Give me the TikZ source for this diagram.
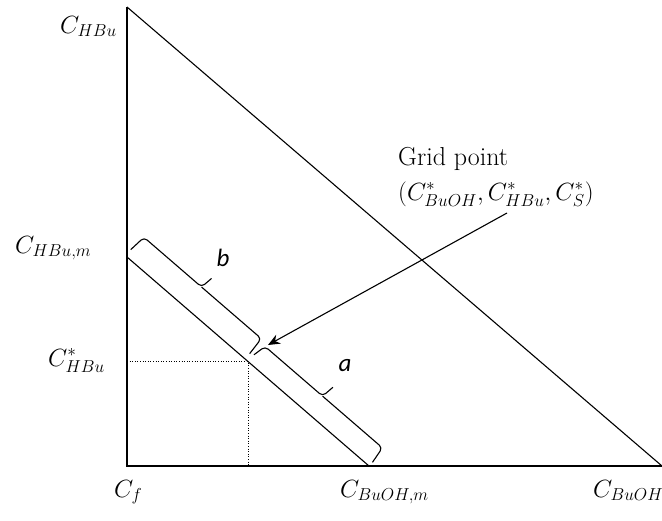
\documentclass[tikz,border=0pt]{standalone}
\usepackage{fontspec}
\newfontfamily\calfont{Carlito}
\usetikzlibrary{arrows.meta,calc}
\begin{document}
\begin{tikzpicture}[x=1pt,y=-1pt,
  axisline/.style={line width=1.6pt},
  mainline/.style={line width=1.1pt},
  dotline/.style={line width=0.9pt, dash pattern=on 1pt off 1.6pt},
  lab/.style={inner sep=0pt, font=\fontsize{26}{31}\selectfont, anchor=base west},
  letter/.style={inner sep=0pt, font=\calfont\itshape\fontsize{25}{30}\selectfont},
  bracestyle/.style={line width=1.1pt, rounded corners=4pt, line join=round},
]
\useasboundingbox (0,0) rectangle (662,520);
\coordinate (O) at (127,466);
\coordinate (Top) at (127,7);
\coordinate (Right) at (662,466);
\coordinate (Hm) at (127,257);
\coordinate (Bm) at (369,466);
\coordinate (G) at ($(Hm)!0.5!(Bm)$);
\coordinate (arrS) at (507,213);
\coordinate (arrT) at (268,345);
% axes and lines
\draw[axisline] (Top) -- (O) -- (Right);
\draw[mainline] (Top) -- (Right);
\draw[mainline] (Hm) -- (Bm);
\draw[dotline] (O |- G) -- (G) -- (G |- O);
% braces
\begin{scope}[shift={(Hm)}, x=1pt, y=1pt, rotate=-40.81]
  \draw[bracestyle] (-2,8) -- (0,26) -- (76,26) -- (78,39);
  \draw[bracestyle] (76,26) -- (155,26) -- (156,7);
  \draw[bracestyle] (160,9) -- (163,22.5) -- (239,22.5) -- (241,36);
  \draw[bracestyle] (239,22.5) -- (318,22.5) -- (320,5);
\end{scope}
\node[letter] (lb) at (223,258) {b};
\node[letter] (la) at (345,366) {a};
% arrow
\draw[mainline, -{Stealth[length=12pt,width=10pt]}] (arrS) -- (arrT);
% labels
\node[lab] (lHBu) at (60,33) {$C_{HBu}$};
\node[lab] (lHBum) at (15,253) {$C_{HBu,m}$};
\node[lab] (lHBus) at (48,366) {$C^*_{HBu}$};
\node[lab] (lf) at (114,497) {$C_f$};
\node[lab] (lBuOHm) at (340,497) {$C_{BuOH,m}$};
\node[lab] (lBuOH) at (593,497) {$C_{BuOH}$};
\node[lab] (gp1) at (398,165) {Grid point};
\node[lab] (gp2) at (398,200) {$(C^*_{BuOH}, C^*_{HBu}, C^*_S)$};
\end{tikzpicture}
\end{document}
